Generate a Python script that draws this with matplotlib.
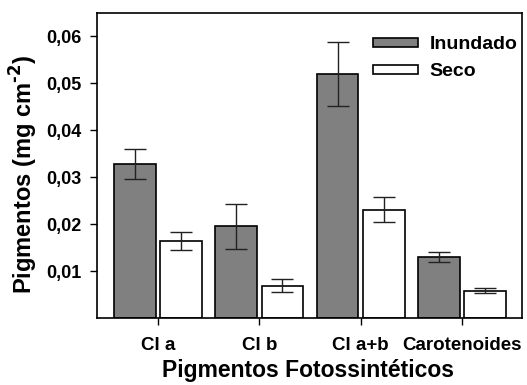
import numpy as np
import matplotlib
matplotlib.use("Agg")
import matplotlib.pyplot as plt

plt.rcParams['font.family'] = ['Liberation Sans', 'DejaVu Sans']
plt.rcParams['font.weight'] = 'bold'
plt.rcParams['mathtext.default'] = 'bf'

# Pigment means and standard errors (mg cm-2)
categorias = ["Cl a", "Cl b", "Cl a+b", "Carotenoides"]
inundado = [0.0328, 0.0196, 0.0520, 0.0130]
inundado_err = [0.0032, 0.0048, 0.0068, 0.0010]
seco = [0.0164, 0.0069, 0.0231, 0.0058]
seco_err = [0.0020, 0.0014, 0.0026, 0.0005]
yticks = [0.01, 0.02, 0.03, 0.04, 0.05, 0.06]
ytick_labels = ["0,01", "0,02", "0,03", "0,04", "0,05", "0,06"]

x = np.arange(len(categorias))
w = 0.41
off = 0.227

W, H = 527, 385
fig = plt.figure(figsize=(W / 100, H / 100), dpi=100)
ax = fig.add_axes([97/W, 1 - 318/H, 425/W, 305/H])

err_kw = dict(ecolor='#222222', elinewidth=1.0, capsize=8, capthick=1.0)
ax.bar(x - off, inundado, w, yerr=inundado_err, color='#808080',
       edgecolor='black', linewidth=1.2, error_kw=err_kw, label='Inundado')
ax.bar(x + off, seco, w, yerr=seco_err, color='white',
       edgecolor='black', linewidth=1.2, error_kw=err_kw, label='Seco')

ax.set_xlim(-0.6, 3.59)
ax.set_ylim(0, 0.065)
ax.set_xticks(x)
ax.set_xticklabels(categorias, fontsize=13.5, fontweight='bold')
ax.set_yticks(yticks)
ax.set_yticklabels(ytick_labels, fontsize=13, fontweight='bold')
ax.tick_params(axis='both', direction='out', length=5, width=1)
ax.tick_params(axis='y', pad=6)
ax.tick_params(axis='x', pad=9)
for s in ax.spines.values():
    s.set_linewidth(1.2)

# axis titles placed in figure pixels
fig.text(24/W, 1 - 174/H, "Pigmentos (mg cm$^{\\text{-2}}$)", rotation=90,
         ha='center', va='center', fontsize=17, fontweight='bold')
fig.text(308/W, 1 - 377/H, "Pigmentos Fotossintéticos", ha='center',
         va='baseline', fontsize=16.5, fontweight='bold')

ax.legend(loc='upper right', bbox_to_anchor=(1.012, 0.955), frameon=False,
          handlelength=2.3, handleheight=0.36, handletextpad=0.6,
          labelspacing=0.5, borderaxespad=0.1,
          prop={'weight': 'bold', 'size': 14})

fig.savefig("out.png", dpi=100)
